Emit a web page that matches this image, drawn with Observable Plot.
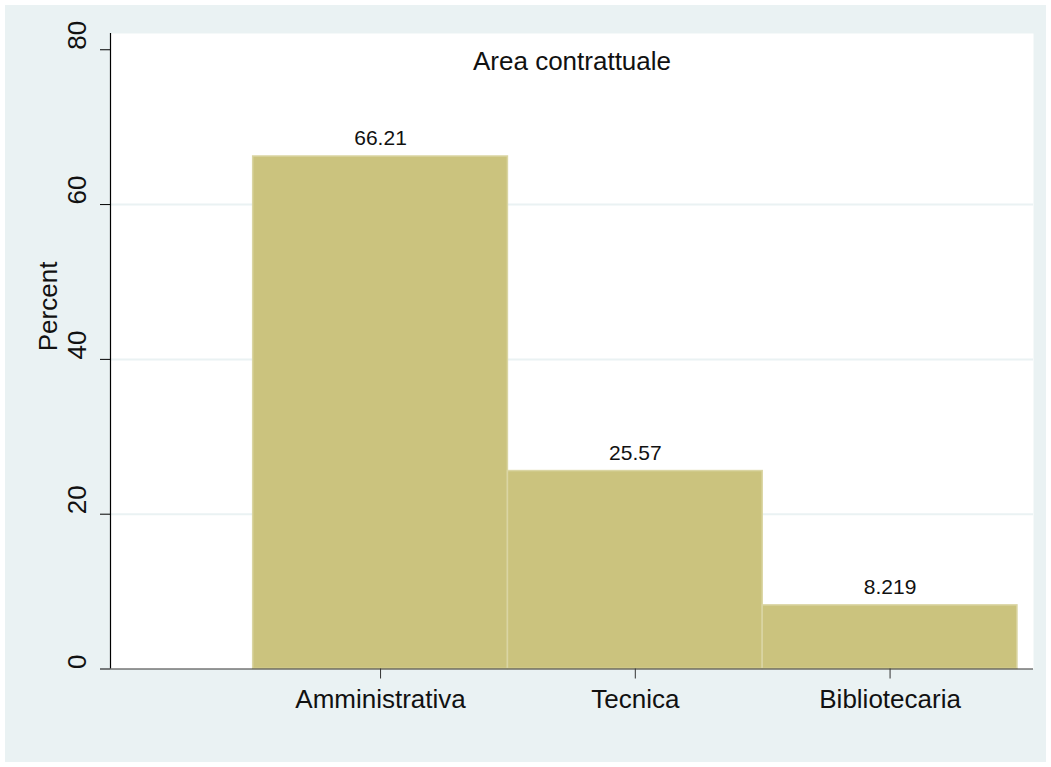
<!DOCTYPE html>
<html>
<head>
<meta charset="utf-8">
<script src="https://cdn.jsdelivr.net/npm/d3@7"></script>
<script src="https://cdn.jsdelivr.net/npm/@observablehq/plot@0.6"></script>
<style>
  html, body { margin: 0; padding: 0; background: #ffffff; }
  #chart { position: absolute; left: 5px; top: 5px; }
  svg { display: block; }
</style>
</head>
<body>
<div id="chart"></div>
<script>
const categories = ["Amministrativa", "Tecnica", "Bibliotecaria"];
const percents = [66.21, 25.57, 8.219];
const valueLabels = ["66.21", "25.57", "8.219"];
const yTicks = [0, 20, 40, 60, 80];
const gridTicks = [20, 40, 60];
const title = "Area contrattuale";
const yLabel = "Percent";
const xDomain = [-0.06, 3.563];
const yDomain = [0, 82.1];

const data = categories.map((c, i) => ({pos: i + 1, cat: c, pct: percents[i], label: valueLabels[i]}));

const fam = "'Liberation Sans', Arial, Helvetica, sans-serif";

const chart = Plot.plot({
  width: 1041,
  height: 757,
  marginLeft: 105,
  marginRight: 13,
  marginTop: 28,
  marginBottom: 93.5,
  style: {background: "#EAF2F3", fontFamily: fam, color: "#000"},
  x: {domain: xDomain, axis: null},
  y: {domain: yDomain, axis: null},
  marks: [
    Plot.frame({fill: "white", stroke: null}),
    Plot.ruleY(gridTicks, {stroke: "#EAF2F3", strokeWidth: 2}),
    Plot.rect(data, {x1: d => d.pos - 0.5, x2: d => d.pos + 0.5, y1: 0, y2: "pct", fill: "#CBC37E", stroke: "#DAD5A3", strokeWidth: 1.5}),
    Plot.text(data, {x: "pos", y: "pct", text: "label", dy: -11, lineAnchor: "bottom", fontSize: 21, fill: "#111"}),
    Plot.axisY({ticks: yTicks, tickSize: 10, tickFormat: () => "", stroke: "#000", label: null}),
    Plot.text(yTicks, {y: d => d, text: d => String(d), frameAnchor: "left", rotate: -90, dx: -32.5, fontSize: 26, fill: "#111"}),
    Plot.text([yLabel], {frameAnchor: "left", rotate: -90, dx: -61.5, fontSize: 26, fill: "#111"}),
    Plot.axisX({ticks: [1, 2, 3], tickFormat: i => categories[i - 1], tickSize: 10, tickPadding: 11, fontSize: 26, label: null, stroke: "#333", fill: "#111"}),
    Plot.ruleX([xDomain[0]], {stroke: "#000", strokeWidth: 1.2}),
    Plot.ruleY([0], {stroke: "#333", strokeWidth: 1.2}),
    Plot.text([title], {frameAnchor: "top", dy: 18.5, fontSize: 26, fill: "#111"})
  ]
});
document.getElementById("chart").appendChild(chart);
</script>
</body>
</html>
